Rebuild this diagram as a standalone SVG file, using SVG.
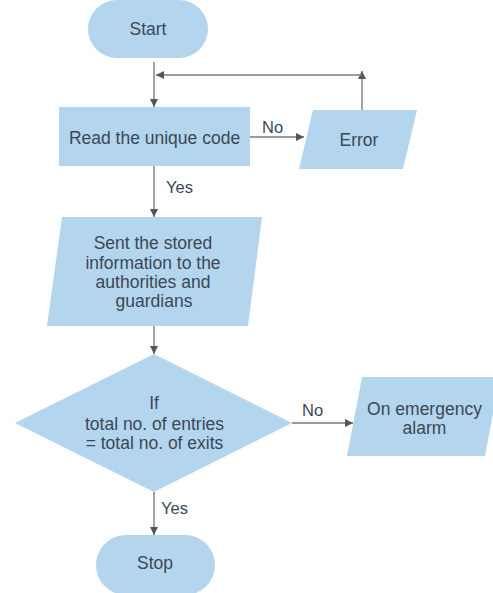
<svg xmlns="http://www.w3.org/2000/svg" width="493" height="593" viewBox="0 0 493 593">
<style>
.shape{fill:#b3d5ee;stroke:none}
.t{font-family:"Liberation Sans",Arial,sans-serif;font-size:17.5px;fill:#3b4856;text-anchor:middle}
.lbl{font-family:"Liberation Sans",Arial,sans-serif;font-size:16.5px;fill:#3b4856}
.c{stroke:#7a7a7a;stroke-width:1.4;fill:none;marker-end:url(#ah)}
</style>
<defs>
<marker id="ah" viewBox="0 0 10 10" refX="10" refY="5" markerWidth="8" markerHeight="8" markerUnits="userSpaceOnUse" orient="auto">
<path d="M0,0 L10,5 L0,10 z" fill="#555"/>
</marker>
</defs>
<rect width="493" height="593" fill="#ffffff"/>
<g id="connectors">
<line class="c" x1="154" y1="62" x2="154" y2="107"/>
<line class="c" x1="362" y1="110" x2="362" y2="71"/>
<line class="c" x1="362" y1="75" x2="156" y2="75"/>
<line class="c" x1="250" y1="137" x2="304" y2="137"/>
<line class="c" x1="154" y1="166" x2="154" y2="217"/>
<line class="c" x1="154" y1="326" x2="154" y2="354"/>
<line class="c" x1="292" y1="423" x2="353" y2="423"/>
<line class="c" x1="154" y1="492" x2="154" y2="535"/>
<text class="lbl" x="262" y="133">No</text>
<text class="lbl" x="166" y="193">Yes</text>
<text class="lbl" x="302" y="416">No</text>
<text class="lbl" x="161" y="514">Yes</text>
</g>
<g id="start">
<rect class="shape" x="88" y="0" width="120" height="58" rx="29" ry="29"/>
<text class="t" x="148" y="35">Start</text>
</g>
<g id="read">
<rect class="shape" x="59" y="107" width="191" height="59"/>
<text class="t" x="154.5" y="144">Read the unique code</text>
</g>
<g id="error">
<polygon class="shape" points="313,110 417,110 403,169 299,169"/>
<text class="t" x="359" y="146">Error</text>
</g>
<g id="sent">
<polygon class="shape" points="62,217 262,217 248,326 47,326"/>
<text class="t" x="153" y="249">Sent the stored</text>
<text class="t" x="153" y="268.5">information to the</text>
<text class="t" x="153" y="288">authorities and</text>
<text class="t" x="154" y="307">guardians</text>
</g>
<g id="decision">
<polygon class="shape" points="154,354 292,423 154,492 15,423"/>
<text class="t" x="154" y="409">If</text>
<text class="t" x="154.5" y="430">total no. of entries</text>
<text class="t" x="154.5" y="449">= total no. of exits</text>
</g>
<g id="alarm">
<polygon class="shape" points="362,377 500,377 485,456 347,456"/>
<text class="t" x="424.5" y="415">On emergency</text>
<text class="t" x="424.5" y="434">alarm</text>
</g>
<g id="stop">
<rect class="shape" x="96" y="535" width="119" height="60" rx="30" ry="30"/>
<text class="t" x="155" y="569">Stop</text>
</g>
</svg>
